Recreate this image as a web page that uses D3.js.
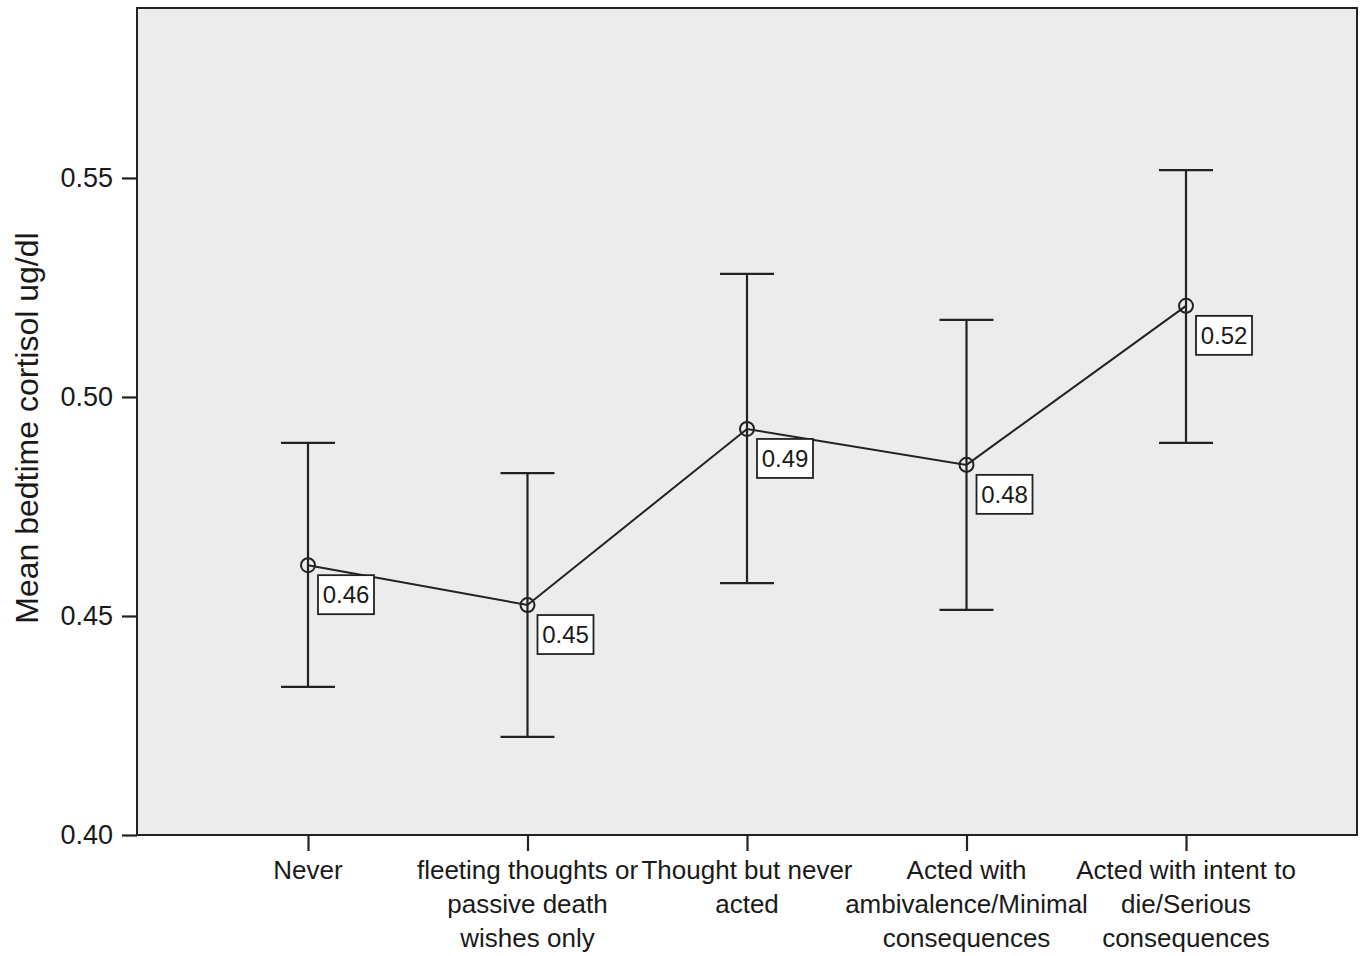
<!DOCTYPE html>
<html>
<head>
<meta charset="utf-8">
<script src="https://cdn.jsdelivr.net/npm/d3@7"></script>
<style>
  body { margin: 0; background: #fff; }
  text { font-family: "Liberation Sans", Arial, sans-serif; fill: #1a1a1a; }
</style>
</head>
<body>
<script>
// categories (multi-line tick labels)
var categories = [
    ["Never"],
    ["fleeting thoughts or", "passive death", "wishes only"],
    ["Thought but never", "acted"],
    ["Acted with", "ambivalence/Minimal", "consequences"],
    ["Acted with intent to", "die/Serious", "consequences"]
];
var means = [0.4616, 0.4525, 0.4927, 0.4845, 0.5208];
var upper = [0.4895, 0.4826, 0.5281, 0.5176, 0.5518];
var lower = [0.4338, 0.4224, 0.4575, 0.4514, 0.4895];
var pointLabels = ["0.46", "0.45", "0.49", "0.48", "0.52"];
var yTicks = [0.40, 0.45, 0.50, 0.55];

var width = 1363, height = 956;
var margin = { top: 8, right: 6, bottom: 121, left: 137 };

var svg = d3.select("body").append("svg")
    .attr("width", width)
    .attr("height", height);

var x = d3.scalePoint()
    .domain(d3.range(categories.length))
    .range([margin.left, width - margin.right])
    .padding(0.779);

var y = d3.scaleLinear()
    .domain([0.40, 0.5888])
    .range([height - margin.bottom, margin.top]);

// plot background
svg.append("rect")
    .attr("x", margin.left)
    .attr("y", margin.top)
    .attr("width", width - margin.left - margin.right)
    .attr("height", height - margin.top - margin.bottom)
    .attr("fill", "#ececec")
    .attr("stroke", "#222")
    .attr("stroke-width", 2);

// y axis
var yAxis = svg.append("g")
    .attr("transform", "translate(" + margin.left + ",0)")
    .call(d3.axisLeft(y).tickValues(yTicks).tickFormat(d3.format(".2f")).tickSize(15).tickPadding(9));
yAxis.select(".domain").remove();
yAxis.selectAll("line").attr("stroke", "#222").attr("stroke-width", 2.2);
yAxis.selectAll("text").style("font-size", "27px").attr("fill", "#1a1a1a");

// x axis
var xAxis = svg.append("g")
    .attr("transform", "translate(0," + (height - margin.bottom) + ")")
    .call(d3.axisBottom(x).tickSize(16).tickFormat(""));
xAxis.select(".domain").remove();
xAxis.selectAll("line").attr("stroke", "#222").attr("stroke-width", 2.2);

svg.append("g").selectAll("text")
    .data(categories)
    .enter()
    .append("text")
    .attr("text-anchor", "middle")
    .style("font-size", "26px")
    .attr("transform", function(d, i) { return "translate(" + x(i) + "," + (height - margin.bottom + 44) + ")"; })
    .selectAll("tspan")
    .data(function(d) { return d; })
    .enter()
    .append("tspan")
    .attr("x", 0)
    .attr("y", function(d, j) { return j * 34; })
    .text(function(d) { return d; });

// y axis title
svg.append("text")
    .attr("transform", "translate(38," + (y(0.4929)) + ") rotate(-90)")
    .attr("text-anchor", "middle")
    .style("font-size", "32px")
    .text("Mean bedtime cortisol ug/dl");

// error bars
var bars = svg.append("g").selectAll("g")
    .data(means)
    .enter()
    .append("g")
    .attr("stroke", "#222")
    .attr("stroke-width", 2.2)
    .attr("fill", "none");

bars.append("line")
    .attr("x1", function(d, i) { return x(i); })
    .attr("x2", function(d, i) { return x(i); })
    .attr("y1", function(d, i) { return y(lower[i]); })
    .attr("y2", function(d, i) { return y(upper[i]); });
bars.append("line")
    .attr("x1", function(d, i) { return x(i) - 27; })
    .attr("x2", function(d, i) { return x(i) + 27; })
    .attr("y1", function(d, i) { return y(upper[i]); })
    .attr("y2", function(d, i) { return y(upper[i]); });
bars.append("line")
    .attr("x1", function(d, i) { return x(i) - 27; })
    .attr("x2", function(d, i) { return x(i) + 27; })
    .attr("y1", function(d, i) { return y(lower[i]); })
    .attr("y2", function(d, i) { return y(lower[i]); });

// mean line
var line = d3.line()
    .x(function(d, i) { return x(i); })
    .y(function(d) { return y(d); });

svg.append("path")
    .datum(means)
    .attr("d", line)
    .attr("fill", "none")
    .attr("stroke", "#222")
    .attr("stroke-width", 2);

svg.append("g").selectAll("circle")
    .data(means)
    .enter()
    .append("circle")
    .attr("cx", function(d, i) { return x(i); })
    .attr("cy", function(d) { return y(d); })
    .attr("r", 7)
    .attr("fill", "none")
    .attr("stroke", "#222")
    .attr("stroke-width", 2);

// value labels
var labels = svg.append("g").selectAll("g")
    .data(means)
    .enter()
    .append("g")
    .attr("transform", function(d, i) { return "translate(" + (x(i) + 10) + "," + (y(d) + 10) + ")"; });

labels.append("rect")
    .attr("width", 56)
    .attr("height", 39)
    .attr("fill", "#fff")
    .attr("stroke", "#222")
    .attr("stroke-width", 1.8);

labels.append("text")
    .attr("x", 28)
    .attr("y", 28)
    .attr("text-anchor", "middle")
    .style("font-size", "24px")
    .text(function(d, i) { return pointLabels[i]; });
</script>
</body>
</html>
